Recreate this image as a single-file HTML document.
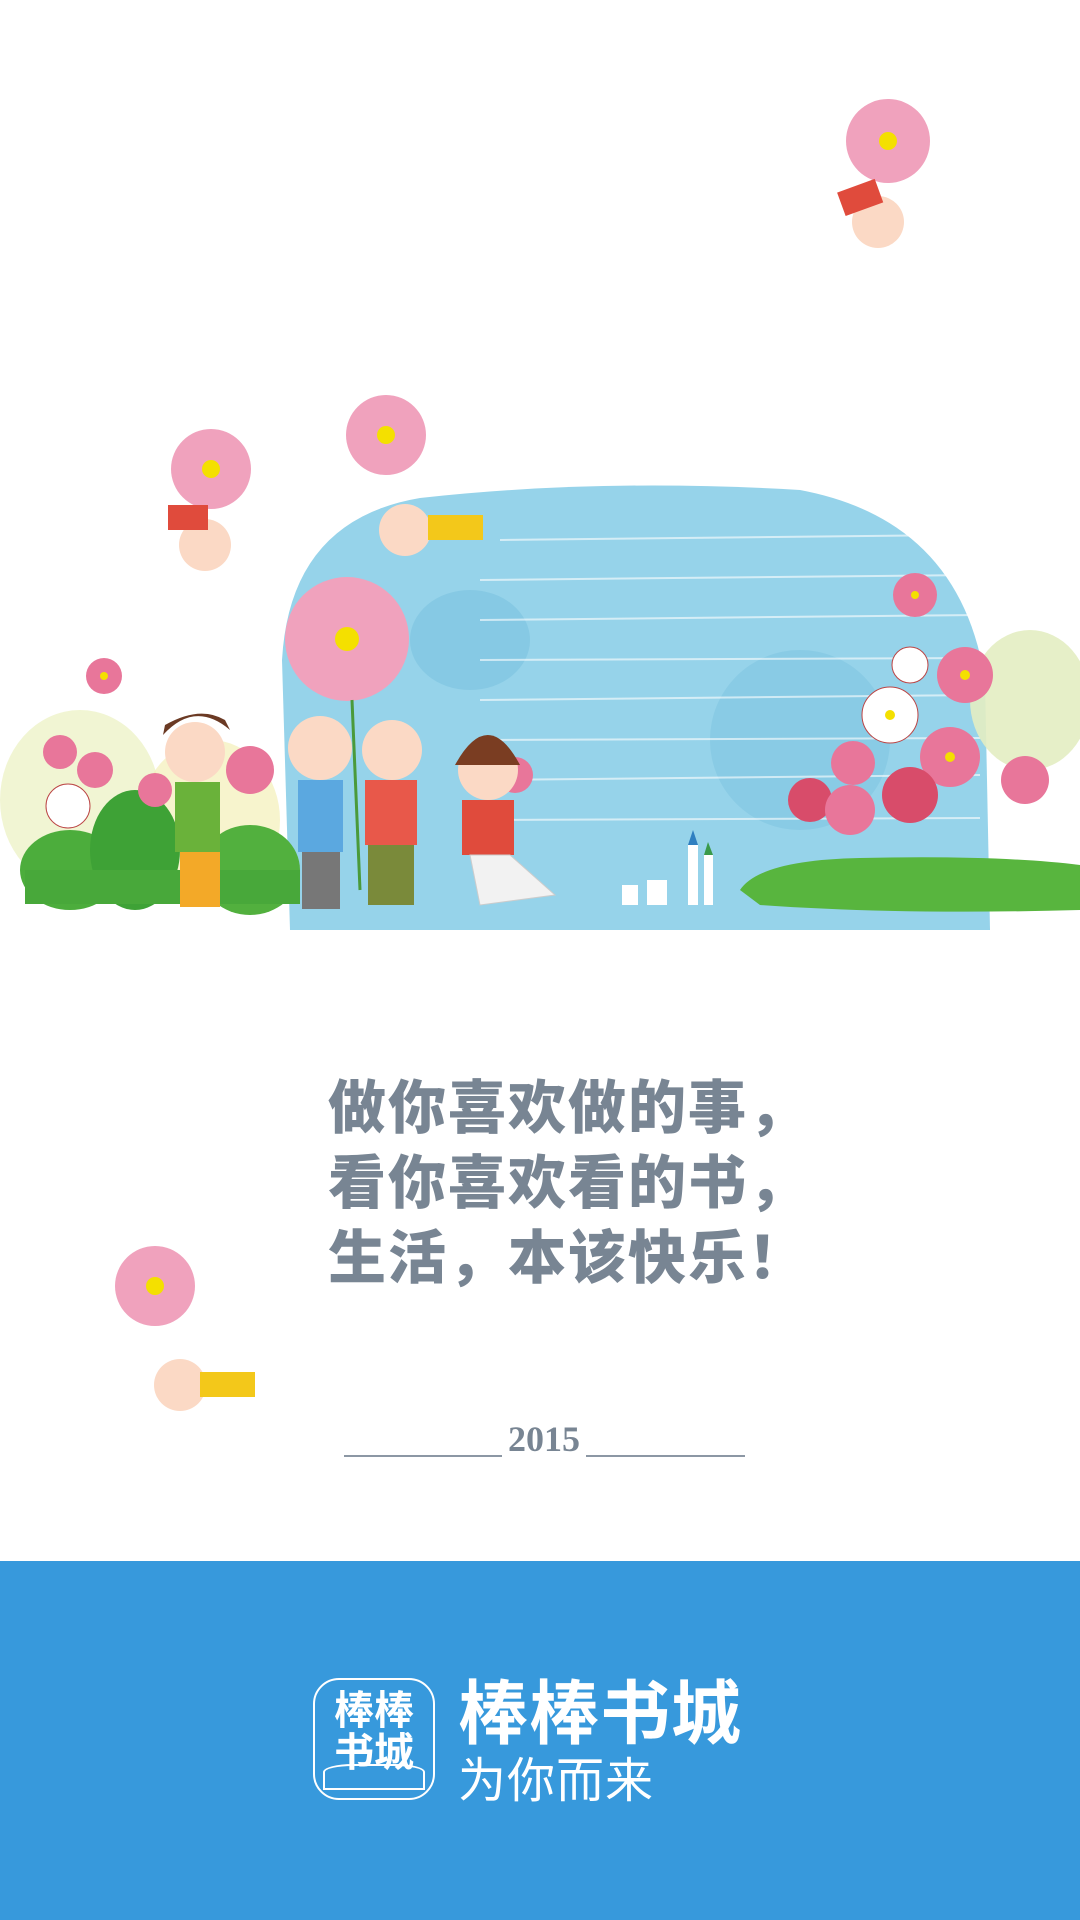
<!DOCTYPE html>
<html><head><meta charset="utf-8"><style>
html,body{margin:0;padding:0}
body{width:1080px;height:1920px;position:relative;background:#fff;overflow:hidden;font-family:"Liberation Sans","Noto Sans CJK SC",sans-serif}
.t{position:absolute;left:328px;font-family:"Liberation Sans","Noto Sans CJK SC",sans-serif;font-weight:900;font-size:58px;line-height:58px;color:#788593;white-space:nowrap;letter-spacing:2px}
</style></head><body>
<svg width="1080" height="1560" style="position:absolute;left:0;top:0">
  <g>
    <path d="M290 930 L282 660 Q290 520 420 498 Q600 478 800 490 Q960 520 985 680 L990 930 Z" fill="#96d3ea"/>
    <ellipse cx="470" cy="640" rx="60" ry="50" fill="#7cc3df" opacity="0.6"/>
    <ellipse cx="800" cy="740" rx="90" ry="90" fill="#7cc3df" opacity="0.5"/>
    <g stroke="#ffffff" stroke-width="2" opacity="0.6">
      <line x1="500" y1="540" x2="960" y2="535"/><line x1="480" y1="580" x2="975" y2="575"/>
      <line x1="480" y1="620" x2="980" y2="615"/><line x1="480" y1="660" x2="980" y2="658"/>
      <line x1="480" y1="700" x2="980" y2="695"/><line x1="480" y1="740" x2="980" y2="738"/>
      <line x1="480" y1="780" x2="980" y2="775"/><line x1="480" y1="820" x2="980" y2="818"/>
    </g>
  </g>
  <g>
    <ellipse cx="80" cy="800" rx="80" ry="90" fill="#eef3c8" opacity="0.8"/>
    <ellipse cx="210" cy="820" rx="70" ry="80" fill="#f3f0b8" opacity="0.7"/>
    <ellipse cx="70" cy="870" rx="50" ry="40" fill="#4cad3c"/>
    <ellipse cx="135" cy="850" rx="45" ry="60" fill="#3ea236"/>
    <ellipse cx="250" cy="870" rx="50" ry="45" fill="#52b03e"/>
    <rect x="25" y="870" width="275" height="34" fill="#48a83a"/>
  </g>
  <g>
    <ellipse cx="1030" cy="700" rx="60" ry="70" fill="#e3edc2" opacity="0.9"/>
    <path d="M740 890 Q760 860 860 858 Q1000 855 1080 865 L1080 910 Q900 915 760 905 Z" fill="#58b53e"/>
  </g>
  <g>
    <rect x="622" y="885" width="16" height="20" fill="#fff"/><rect x="647" y="880" width="20" height="25" fill="#fff"/>
    <rect x="688" y="845" width="10" height="60" fill="#fff"/><rect x="704" y="855" width="9" height="50" fill="#fff"/>
    <polygon points="688,845 693,830 698,845" fill="#2f7fc0"/><polygon points="704,855 708,842 713,855" fill="#3a9a4a"/>
  </g>
  <g fill="#e8769a">
    <circle cx="347" cy="639" r="62" fill="#f0a2bd"/><circle cx="347" cy="639" r="12" fill="#f4e000"/>
    <line x1="352" y1="700" x2="360" y2="890" stroke="#4a9a3a" stroke-width="3"/>
    <circle cx="104" cy="676" r="18"/><circle cx="60" cy="752" r="17"/><circle cx="95" cy="770" r="18"/>
    <circle cx="68" cy="806" r="22" fill="#fff" stroke="#b44"/><circle cx="155" cy="790" r="17"/>
    <circle cx="915" cy="595" r="22"/><circle cx="910" cy="665" r="18" fill="#fff" stroke="#b44"/>
    <circle cx="890" cy="715" r="28" fill="#fff" stroke="#b44"/><circle cx="965" cy="675" r="28"/>
    <circle cx="853" cy="763" r="22"/><circle cx="950" cy="757" r="30"/><circle cx="810" cy="800" r="22" fill="#d84c6a"/>
    <circle cx="850" cy="810" r="25"/><circle cx="910" cy="795" r="28" fill="#d84c6a"/><circle cx="1025" cy="780" r="24"/>
    <circle cx="250" cy="770" r="24"/><circle cx="515" cy="775" r="18"/>
    <g fill="#f4e000"><circle cx="104" cy="676" r="4"/><circle cx="915" cy="595" r="4"/><circle cx="965" cy="675" r="5"/><circle cx="890" cy="715" r="5"/><circle cx="950" cy="757" r="5"/></g>
  </g>
  <g>
    <circle cx="195" cy="752" r="30" fill="#fbd9c5"/><path d="M163 735 Q195 700 230 730 L225 720 Q200 705 165 725Z" fill="#6b3a24"/>
    <rect x="175" y="782" width="45" height="70" fill="#6ab23a"/><rect x="180" y="852" width="40" height="55" fill="#f3a928"/>
    <circle cx="320" cy="748" r="32" fill="#fbd9c5"/><rect x="298" y="780" width="45" height="72" fill="#5ba8e0"/><rect x="302" y="852" width="38" height="57" fill="#777"/>
    <circle cx="392" cy="750" r="30" fill="#fbd9c5"/><rect x="365" y="780" width="52" height="65" fill="#e8584a"/><rect x="368" y="845" width="46" height="60" fill="#7a8a3a"/>
    <circle cx="488" cy="770" r="30" fill="#fbd9c5"/><path d="M455 765 Q488 705 520 765" fill="#7a3d22"/>
    <rect x="462" y="800" width="52" height="55" fill="#e04b3c"/><polygon points="470,855 510,855 555,895 480,905" fill="#f2f2f2" stroke="#ccc"/>
  </g>
  <g>
    <circle cx="888" cy="141" r="42" fill="#f0a2bd"/><circle cx="888" cy="141" r="9" fill="#f4e000"/>
    <circle cx="878" cy="222" r="26" fill="#fbd9c5"/><rect x="840" y="185" width="40" height="25" fill="#e04b3c" transform="rotate(-20 860 197)"/>
    <circle cx="211" cy="469" r="40" fill="#f0a2bd"/><circle cx="211" cy="469" r="9" fill="#f4e000"/>
    <circle cx="205" cy="545" r="26" fill="#fbd9c5"/><rect x="168" y="505" width="40" height="25" fill="#e04b3c"/>
    <circle cx="386" cy="435" r="40" fill="#f0a2bd"/><circle cx="386" cy="435" r="9" fill="#f4e000"/>
    <circle cx="405" cy="530" r="26" fill="#fbd9c5"/><rect x="428" y="515" width="55" height="25" fill="#f3c81a"/>
    <circle cx="155" cy="1286" r="40" fill="#f0a2bd"/><circle cx="155" cy="1286" r="9" fill="#f4e000"/>
    <circle cx="180" cy="1385" r="26" fill="#fbd9c5"/><rect x="200" y="1372" width="55" height="25" fill="#f3c81a"/>
  </g>
</svg>
<div class="t" style="top:1080px">做你喜欢做的事，</div>
<div class="t" style="top:1155px">看你喜欢看的书，</div>
<div class="t" style="top:1230px">生活，本该快乐！</div>
<div style="position:absolute;left:344px;top:1455px;width:158px;height:2px;background:#8c97a4"></div>
<div style="position:absolute;left:502px;top:1418px;width:84px;text-align:center;font-family:'Liberation Serif',serif;font-weight:bold;font-size:36px;color:#788593">2015</div>
<div style="position:absolute;left:586px;top:1455px;width:159px;height:2px;background:#8c97a4"></div>
<div style="position:absolute;left:0;top:1561px;width:1080px;height:359px;background:#3799dc">
  <div style="position:absolute;left:313px;top:117px;width:122px;height:122px;border:2px solid #fff;border-radius:26px;box-sizing:border-box;color:#fff;font-family:'Liberation Sans','Noto Sans CJK SC',sans-serif;font-weight:bold;font-size:40px;line-height:42px;text-align:center;padding-top:10px">棒棒<br>书城
    <div style="position:absolute;left:8px;right:8px;bottom:8px;height:22px;border:2px solid #fff;border-top-left-radius:30px 8px;border-top-right-radius:30px 8px"></div>
  </div>
  <div style="position:absolute;left:458px;top:118px;color:#fff;font-weight:bold;font-size:70px;line-height:70px;font-family:'Liberation Sans','Noto Sans CJK SC',sans-serif;letter-spacing:1px">棒棒书城</div>
  <div style="position:absolute;left:458px;top:196px;color:#fff;font-size:48px;line-height:50px;font-family:'Liberation Sans','Noto Sans CJK SC',sans-serif;letter-spacing:1px">为你而来</div>
</div>
</body></html>
